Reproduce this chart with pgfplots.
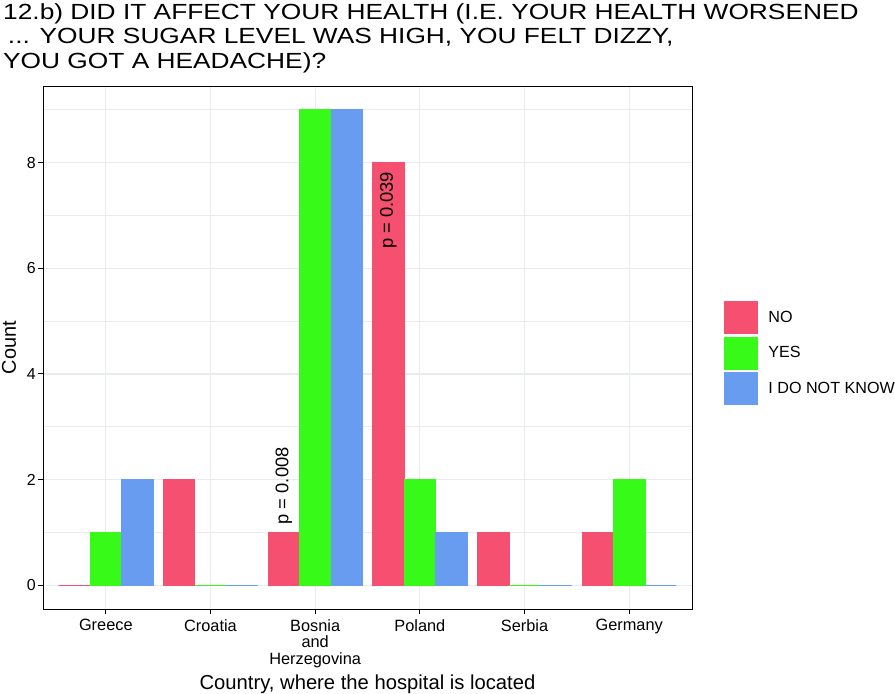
\documentclass[border=0pt]{standalone}
\usepackage{fontspec}
\setmainfont{Liberation Sans}
\usepackage{pgfplots}
\pgfplotsset{compat=1.18}
\definecolor{cno}{RGB}{245,80,112}
\definecolor{cyes}{RGB}{56,250,24}
\definecolor{cidk}{RGB}{104,156,240}
\definecolor{gridc}{RGB}{232,236,236}
\begin{document}
\begin{tikzpicture}
\path[use as bounding box] (0bp,0bp) rectangle (895bp,-694bp);
\begin{axis}[
  at={(43bp,-609bp)}, anchor=south west,
  scale only axis, width=649bp, height=523bp,
  xmin=0.4, xmax=6.6, ymin=-0.45, ymax=9.45,
  ybar, bar width=0.3,
  xtick={1,2,3,4,5,6},
  xticklabels={Greece,Croatia,{Bosnia\\and\\Herzegovina},Poland,Serbia,Germany},
  xticklabel style={align=center, font=\fontsize{16.4}{17}\selectfont, inner sep=2bp, yshift=-3bp},
  ytick={0,2,4,6,8}, minor ytick={1,3,5,7,9},
  yticklabel style={font=\fontsize{16}{17}\selectfont, inner sep=2bp},
  /pgf/number format/assume math mode=true,
  grid=both,
  major grid style={draw=gridc, line width=1.3bp},
  minor grid style={draw=gridc, line width=0.7bp},
  axis line style={black, line width=1bp},
  tick align=outside, xtick pos=lower, ytick pos=left,
  major tick length=5bp, minor tick length=0pt,
  tick style={black, line width=1bp},
  legend style={draw=none, fill=none, at={(axis description cs:1.049,0.4895)}, anchor=west,
    inner sep=0pt, outer sep=0pt, row sep=3bp, font=\fontsize{16.2}{17}\selectfont,
    nodes={inner sep=0pt}, /tikz/every odd column/.style={column sep=11bp}},
  legend cell align=left,
  legend image code/.code={\fill[#1] (0bp,-16bp) rectangle (33bp,16bp);},
]
\addplot+[bar shift=-0.3, fill=cno, draw=cno, line width=0.6bp] coordinates {(1,0) (2,2) (3,1) (4,8) (5,1) (6,1)};
\addplot+[bar shift=0, fill=cyes, draw=cyes, line width=0.6bp] coordinates {(1,1) (2,0) (3,9) (4,2) (5,0) (6,2)};
\addplot+[bar shift=0.3, fill=cidk, draw=cidk, line width=0.6bp] coordinates {(1,2) (2,0) (3,9) (4,1) (5,0) (6,0)};
\legend{NO,YES,I DO NOT KNOW}
\node[rotate=90, anchor=west, font=\fontsize{18.4}{20}\selectfont, inner sep=0pt] at (axis cs:2.7,1.15) {p = 0.008};
\node[rotate=90, anchor=east, font=\fontsize{18.4}{20}\selectfont, inner sep=0pt] at (axis cs:3.7,7.83) {p = 0.039};
\end{axis}
\node[anchor=north west, inner sep=0pt] at (3bp,-2bp)
  {\scalebox{1.2}[1]{\fontsize{22}{24.5}\selectfont\begin{tabular}{@{}l@{}}12.b) DID IT AFFECT YOUR HEALTH (I.E. YOUR HEALTH WORSENED\\\hspace*{4bp}... YOUR SUGAR LEVEL WAS HIGH, YOU FELT DIZZY,\\YOU GOT A HEADACHE)?\end{tabular}}};
\node[font=\fontsize{20.3}{22}\selectfont, inner sep=0pt] at (367.5bp,-684bp) {Country, where the hospital is located};
\node[rotate=90, font=\fontsize{20}{22}\selectfont, inner sep=0pt] at (9bp,-347.5bp) {Count};
\end{tikzpicture}
\end{document}
